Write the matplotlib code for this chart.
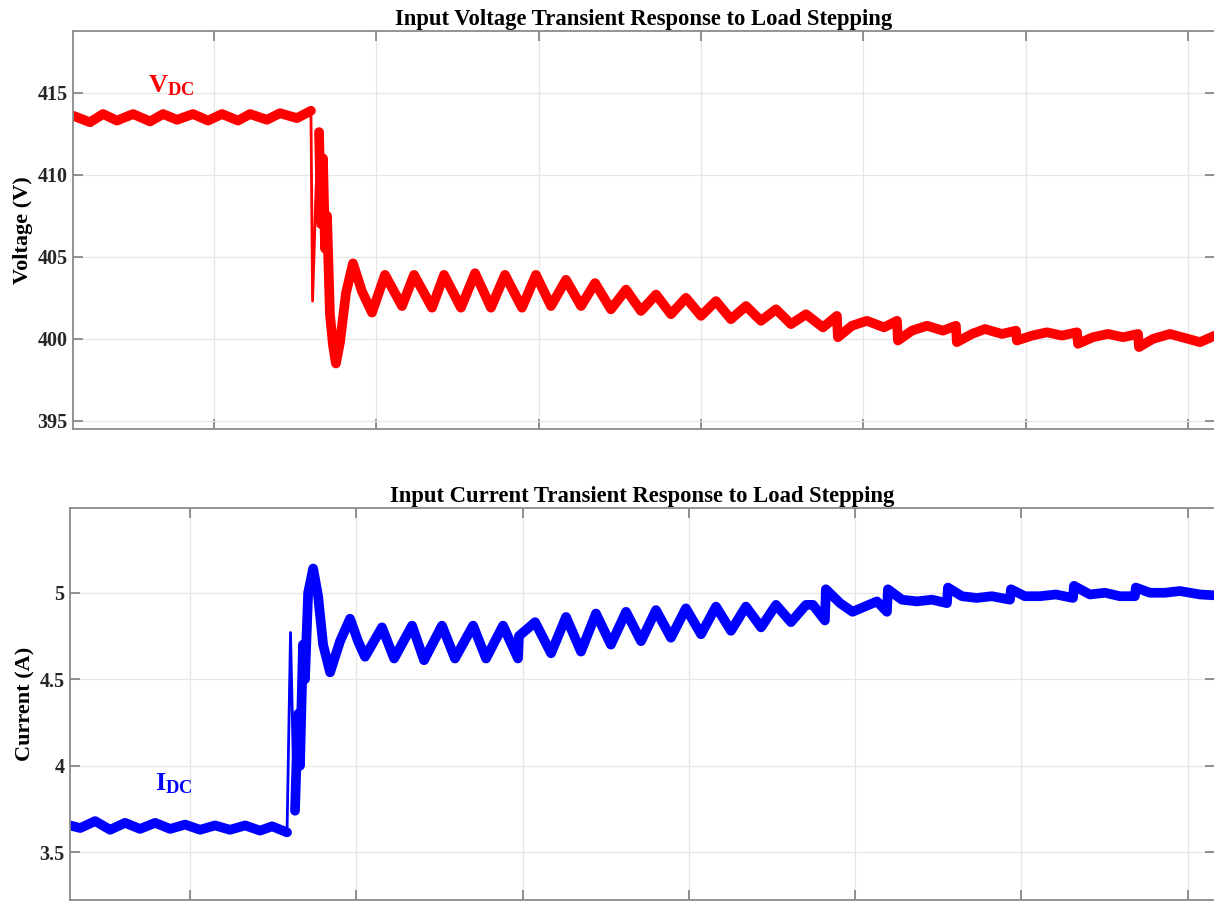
import numpy as np
import matplotlib
matplotlib.use("Agg")
import matplotlib.pyplot as plt
from matplotlib.ticker import FormatStrFormatter

# --- values (time in s, voltage in V, current in A) ---
t_v = [0.0131, 0.0236, 0.0316, 0.0402, 0.0501, 0.0606, 0.0686, 0.0772, 0.0870,
       0.0963, 0.1049, 0.1148, 0.1222, 0.1326, 0.1406, 0.1511, 0.1597,
       0.1607, 0.1628, 0.1647, 0.1659, 0.1671, 0.1684, 0.1696, 0.1714, 0.1733,
       0.1751, 0.1776, 0.1813, 0.1856, 0.1911, 0.1973, 0.2053, 0.2158, 0.2232,
       0.2343, 0.2417, 0.2521, 0.2608, 0.2706, 0.2792, 0.2897, 0.2983, 0.3076,
       0.3168, 0.3261, 0.3347, 0.3445, 0.3538, 0.3630, 0.3723, 0.3815, 0.3907,
       0.4000, 0.4092, 0.4184, 0.4277, 0.4369, 0.4462, 0.4554, 0.4647, 0.4751,
       0.4837, 0.4843, 0.4930, 0.5022, 0.5127, 0.5207, 0.5213, 0.5299, 0.5392,
       0.5490, 0.5570, 0.5576, 0.5669, 0.5749, 0.5854, 0.5940, 0.5946, 0.6039,
       0.6131, 0.6223, 0.6316, 0.6322, 0.6414, 0.6507, 0.6599, 0.6692, 0.6698,
       0.6784, 0.6889, 0.7074, 0.7166]
v_dc = [413.6, 413.2, 413.7, 413.3, 413.7, 413.25, 413.7, 413.35, 413.7,
        413.3, 413.7, 413.3, 413.7, 413.35, 413.75, 413.45, 413.9,
        402.3, 409.0, 412.6, 407.0, 411.0, 405.5, 407.5, 401.5, 399.6,
        398.5, 399.8, 402.8, 404.6, 402.9, 401.6, 403.9, 402.0, 403.9,
        401.9, 403.9, 401.9, 404.0, 401.9, 403.9, 401.9, 403.9, 402.0,
        403.6, 402.0, 403.4, 401.8, 403.0, 401.7, 402.7, 401.5, 402.5,
        401.4, 402.3, 401.2, 402.0, 401.1, 401.8, 400.9, 401.5, 400.7,
        401.4, 400.1, 400.8, 401.1, 400.7, 401.1, 399.9, 400.5, 400.8,
        400.5, 400.8, 399.8, 400.3, 400.6, 400.3, 400.5, 399.9, 400.2,
        400.4, 400.2, 400.4, 399.7, 400.1, 400.3, 400.1, 400.3, 399.5,
        400.0, 400.3, 399.8, 400.2]

t_i = [0.0278, 0.0339, 0.0429, 0.0519, 0.0609, 0.0699, 0.0790, 0.0880, 0.0970,
       0.1060, 0.1150, 0.1240, 0.1331, 0.1421, 0.1493, 0.1583,
       0.1604, 0.1619, 0.1631, 0.1649, 0.1661, 0.1679, 0.1691, 0.1710, 0.1740,
       0.1770, 0.1800, 0.1842, 0.1902, 0.1962, 0.2010, 0.2052, 0.2154, 0.2227,
       0.2335, 0.2407, 0.2515, 0.2593, 0.2702, 0.2780, 0.2882, 0.2972, 0.2978,
       0.3075, 0.3171, 0.3261, 0.3351, 0.3441, 0.3531, 0.3622, 0.3712, 0.3802,
       0.3892, 0.3982, 0.4073, 0.4163, 0.4253, 0.4343, 0.4434, 0.4524, 0.4614,
       0.4704, 0.4746, 0.4818, 0.4824, 0.4909, 0.4984, 0.5131, 0.5191, 0.5197,
       0.5281, 0.5371, 0.5462, 0.5552, 0.5558, 0.5642, 0.5732, 0.5822, 0.5931,
       0.5937, 0.6021, 0.6111, 0.6207, 0.6310, 0.6316, 0.6412, 0.6502, 0.6592,
       0.6682, 0.6688, 0.6773, 0.6863, 0.6953, 0.7075, 0.7164]
i_dc = [3.655, 3.64, 3.68, 3.63, 3.67, 3.635, 3.67, 3.635, 3.66,
        3.63, 3.655, 3.63, 3.655, 3.625, 3.65, 3.615,
        4.77, 4.1, 3.74, 4.3, 4.0, 4.7, 4.5, 5.0, 5.14,
        4.98, 4.7, 4.54, 4.72, 4.85, 4.72, 4.63, 4.80, 4.62,
        4.81, 4.61, 4.81, 4.62, 4.81, 4.62, 4.81, 4.62, 4.75,
        4.83, 4.65, 4.86, 4.66, 4.88, 4.70, 4.89, 4.72, 4.90,
        4.74, 4.91, 4.76, 4.92, 4.78, 4.92, 4.80, 4.93, 4.83,
        4.93, 4.93, 4.84, 5.02, 4.94, 4.89, 4.95, 4.89, 5.02,
        4.96, 4.95, 4.96, 4.94, 5.03, 4.98, 4.97, 4.98, 4.96,
        5.02, 4.98, 4.98, 4.99, 4.97, 5.04, 4.99, 5.00, 4.98,
        4.98, 5.03, 5.00, 5.00, 5.01, 4.99, 4.985]

# samples of the step itself are drawn thin (no switching ripple band there)
v_step = (17, 19)
i_step = (16, 18)

x_ticks = [0.1, 0.2, 0.3, 0.4, 0.5, 0.6, 0.7]
v_ticks = [395, 400, 405, 410, 415]
i_ticks = [3.5, 4, 4.5, 5]

plt.rcParams['font.family'] = ['Liberation Serif', 'DejaVu Serif']
plt.rcParams['font.weight'] = 'bold'
plt.rcParams['mathtext.fontset'] = 'custom'
plt.rcParams['mathtext.rm'] = 'Liberation Serif:bold'
plt.rcParams['mathtext.bf'] = 'Liberation Serif:bold'
plt.rcParams['mathtext.it'] = 'Liberation Serif:bold'

fig = plt.figure(figsize=(12.14, 9.01), dpi=100)
ax1 = fig.add_axes([0.0601, 0.5239, 0.9407, 0.4417])
ax2 = fig.add_axes([0.0577, 0.0011, 0.9431, 0.4351])


def style_axes(ax, yticks, xlim, ylim):
    ax.set_xlim(xlim)
    ax.set_ylim(ylim)
    ax.set_xticks(x_ticks)
    ax.set_yticks(yticks)
    ax.yaxis.set_major_formatter(FormatStrFormatter('%g'))
    ax.tick_params(direction='in', length=7, width=1.2, color='#7f7f7f',
                   top=True, right=True, labelbottom=False,
                   labelsize=14.5, labelcolor='#262626', pad=4)
    ax.grid(True, color='#e6e6e6', linewidth=0.9)
    ax.set_axisbelow(True)
    for s in ax.spines.values():
        s.set_color('#8a8a8a')
        s.set_linewidth(1.3)


def draw_wave(ax, t, y, step, color):
    t = np.array(t)
    y = np.array(y)
    a, b = step
    ax.plot(t, y, color=color, lw=2.0, solid_joinstyle='round')
    kw = dict(color=color, lw=7, solid_joinstyle='round', solid_capstyle='round')
    ax.plot(t[:a], y[:a], **kw)
    ax.plot(t[b:], y[b:], **kw)


draw_wave(ax1, t_v, v_dc, v_step, 'red')
style_axes(ax1, v_ticks, (0.0131, 0.7166), (394.51, 418.76))
ax1.set_ylabel('Voltage (V)', fontsize=16, fontweight='bold', labelpad=3)
ax1.set_title('Input Voltage Transient Response to Load Stepping',
              fontsize=16.3, fontweight='bold', pad=4)
ax1.text(0.066, 0.845, r'$\mathbf{V_{DC}}$', color='red', fontsize=19,
         transform=ax1.transAxes)

draw_wave(ax2, t_i, i_dc, i_step, 'blue')
style_axes(ax2, i_ticks, (0.0278, 0.7164), (3.224, 5.49))
ax2.set_ylabel('Current (A)', fontsize=16, fontweight='bold', labelpad=3)
ax2.set_title('Input Current Transient Response to Load Stepping',
              fontsize=16.3, fontweight='bold', pad=4)
ax2.text(0.074, 0.28, r'$\mathbf{I_{DC}}$', color='blue', fontsize=19,
         transform=ax2.transAxes)

fig.savefig('out.png', dpi=100)
